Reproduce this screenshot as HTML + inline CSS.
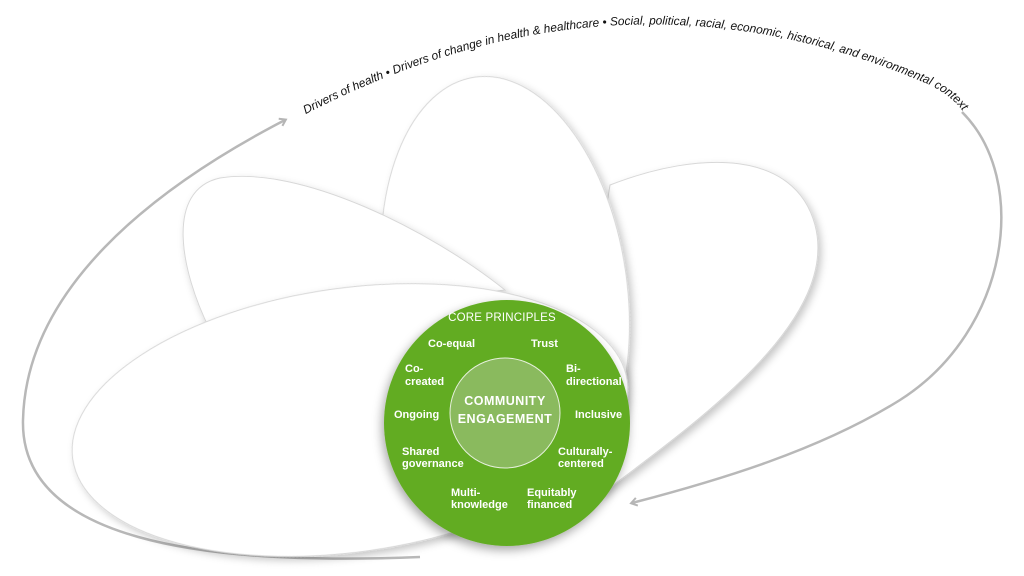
<!DOCTYPE html>
<html><head><meta charset="utf-8"><style>
html,body{margin:0;padding:0;background:#fff;}
svg{display:block;}
</style></head><body>
<svg width="1024" height="576" viewBox="0 0 1024 576" xmlns="http://www.w3.org/2000/svg" font-family="Liberation Sans, sans-serif">
<defs>
<filter id="sh" x="-20%" y="-20%" width="140%" height="140%">
<feDropShadow dx="3" dy="4" stdDeviation="4" flood-color="#000" flood-opacity="0.22"/>
</filter>
<filter id="sh2" x="-20%" y="-20%" width="140%" height="140%">
<feDropShadow dx="-2" dy="4" stdDeviation="5" flood-color="#000" flood-opacity="0.35"/>
</filter>
<marker id="ah" markerWidth="10" markerHeight="10" refX="6" refY="5" orient="auto" markerUnits="userSpaceOnUse">
<path d="M1,1 L7,5 L1,9" fill="none" stroke="#b5b5b5" stroke-width="2"/>
</marker>
<path id="tp" d="M302,116 Q620,-50 930,85 Q950,95 962,110 L990,150"/>
</defs>
<path d="M420,557 C200,566 20,540 23,420 C26,290 150,190 285,120" fill="none" stroke="#b8b8b8" stroke-width="2.5" marker-end="url(#ah)"/>
<path d="M962,112 C1030,180 1010,330 900,400 C820,450 720,480 632,503" fill="none" stroke="#b8b8b8" stroke-width="2.5" marker-end="url(#ah)"/>
<path d="M600,495 C700,420 840,320 815,225 C795,150 700,150 610,185 C590,300 600,400 600,495 Z" fill="#fff" stroke="#d8d8d8" filter="url(#sh)"/>
<ellipse cx="505" cy="290" rx="122" ry="215" transform="rotate(-8 505 290)" fill="#fff" stroke="#d8d8d8" filter="url(#sh)"/>
<path d="M505,290 C430,230 300,165 220,178 C165,190 180,270 210,330 C300,320 420,300 505,290 Z" fill="#fff" stroke="#d8d8d8" filter="url(#sh)"/>
<ellipse cx="350" cy="420" rx="280" ry="132" transform="rotate(-8 350 420)" fill="#fff" stroke="#d8d8d8" filter="url(#sh)"/>
<circle cx="507" cy="423" r="123" fill="#62ac22" filter="url(#sh2)"/>
<circle cx="505" cy="413" r="55" fill="#8aba5e" stroke="#e6f0dc" stroke-width="1"/>
<g fill="#fff" font-weight="bold" font-size="11" text-anchor="start">
<text x="502" y="321" text-anchor="middle" font-weight="normal" font-size="11.5" letter-spacing="0.2">CORE PRINCIPLES</text>
<text x="428" y="347">Co-equal</text>
<text x="531" y="347">Trust</text>
<text x="405" y="372">Co-</text><text x="405" y="385">created</text>
<text x="566" y="372">Bi-</text><text x="566" y="385">directional</text>
<text x="394" y="418">Ongoing</text>
<text x="575" y="418">Inclusive</text>
<text x="402" y="455">Shared</text><text x="402" y="467">governance</text>
<text x="558" y="455">Culturally-</text><text x="558" y="467">centered</text>
<text x="451" y="496">Multi-</text><text x="451" y="508">knowledge</text>
<text x="527" y="496">Equitably</text><text x="527" y="508">financed</text>
<text x="505" y="405" text-anchor="middle" font-size="12.5" letter-spacing="0.5">COMMUNITY</text>
<text x="505" y="423" text-anchor="middle" font-size="12.5" letter-spacing="0.5">ENGAGEMENT</text>
</g>
<text font-size="12" font-style="italic" fill="#111"><textPath href="#tp" startOffset="4" textLength="690" lengthAdjust="spacingAndGlyphs">Drivers of health  •  Drivers of change in health &amp; healthcare  •  Social, political, racial, economic, historical, and environmental context</textPath></text>
</svg>
</body></html>
